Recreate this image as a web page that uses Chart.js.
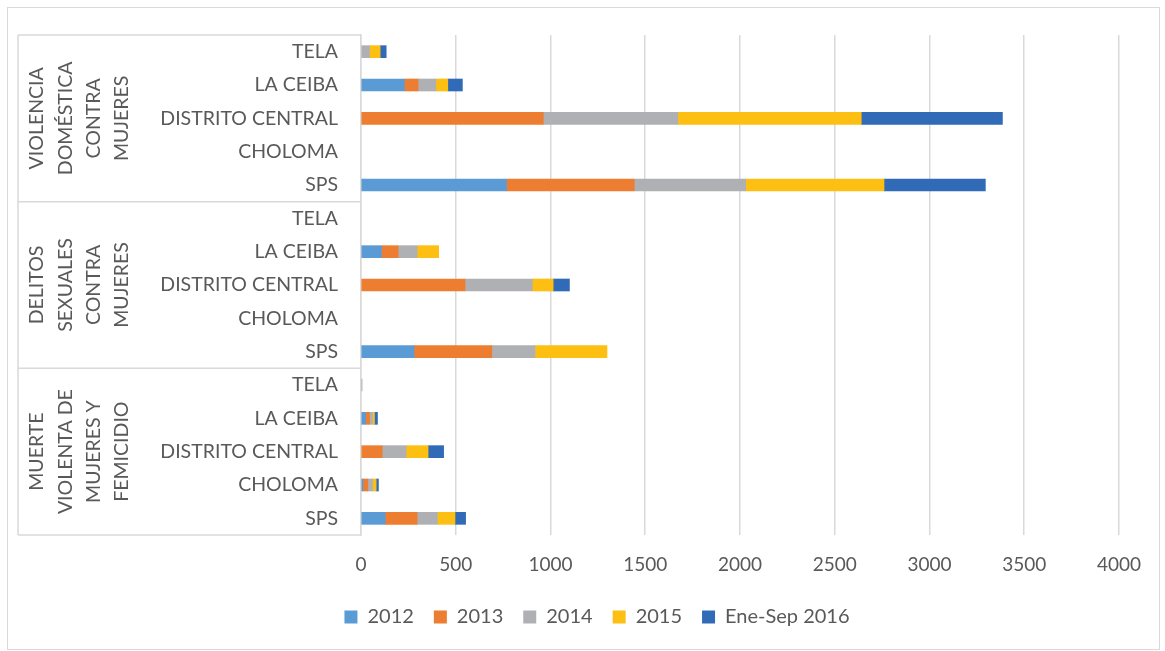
<!DOCTYPE html>
<html>
<head>
<meta charset="utf-8">
<script src="https://cdn.jsdelivr.net/npm/chart.js@4.4.0/dist/chart.umd.min.js"></script>
<style>
  html, body { margin: 0; padding: 0; background: #fff; }
  #wrap { position: absolute; left: 7px; top: 7px; width: 1153px; height: 643px; border: 1px solid #d9d9d9; box-sizing: border-box; }
</style>
</head>
<body>
<div id="wrap"><canvas id="chart"></canvas></div>
<script>
// groups (outer level of the y axis), one entry per text line
const groups = [
  ["VIOLENCIA", "DOMÉSTICA", "CONTRA", "MUJERES"],
  ["DELITOS", "SEXUALES", "CONTRA", "MUJERES"],
  ["MUERTE", "VIOLENTA DE", "MUJERES Y", "FEMICIDIO"]
];
const cities = ["TELA", "LA CEIBA", "DISTRITO CENTRAL", "CHOLOMA", "SPS"];
const years = ["2012", "2013", "2014", "2015", "Ene-Sep 2016"];

// values per year, top to bottom: 3 groups x 5 cities (null = empty cell)
const v2012 = [null, 229, null, null, 768,  null, 108, null, null, 280,  null, 24, null, 10, 128];
const v2013 = [null, 72, 962, null, 674,    null, 88, 549, null, 410,    null, 21, 112, 26, 168];
const v2014 = [45, 94, 710, null, 588,      null, 100, 355, null, 228,   6, 16, 126, 25, 107];
const v2015 = [56, 63, 968, null, 730,      null, 114, 110, null, 380,   null, 10, 116, 19, 93];
const v2016 = [32, 77, 745, null, 535,      null, null, 86, null, null,  null, 16, 82, 12, 56];

const colors = ['#5B9BD5', '#ED7D31', '#AFB0B3', '#FCBF12', '#316AB6'];
const seriesVals = [v2012, v2013, v2014, v2015, v2016];

const labels = groups.flatMap(() => cities);

Chart.defaults.font.family = 'Lato';
Chart.defaults.font.size = 19.5;
Chart.defaults.color = '#595959';

// draws the outer group labels and the box lines round them
const groupBoxes = {
  id: 'groupBoxes',
  afterDraw(chart) {
    const {ctx, chartArea: a} = chart;
    const h = (a.bottom - a.top) / groups.length;
    ctx.save();
    ctx.strokeStyle = '#d9d9d9';
    ctx.lineWidth = 1.5;
    ctx.beginPath();
    ctx.moveTo(10, a.top);
    ctx.lineTo(10, a.bottom);
    for (let g = 0; g <= groups.length; g++) {
      const y = a.top + g * h;
      ctx.moveTo(10, y);
      ctx.lineTo(a.left, y);
    }
    ctx.stroke();
    ctx.fillStyle = '#595959';
    ctx.font = '19.5px Lato';
    ctx.textAlign = 'center';
    ctx.textBaseline = 'middle';
    groups.forEach((lines, g) => {
      const cy = a.top + (g + 0.5) * h;
      lines.forEach((t, i) => {
        ctx.save();
        ctx.translate(29 + i * 28.3, cy);
        ctx.rotate(-Math.PI / 2);
        ctx.fillText(t, 0, 0);
        ctx.restore();
      });
    });
    ctx.restore();
  }
};

new Chart(document.getElementById('chart'), {
  type: 'bar',
  data: {
    labels: labels,
    datasets: years.map((y, i) => ({
      label: y,
      data: seriesVals[i],
      backgroundColor: colors[i],
      barThickness: 12
    }))
  },
  options: {
    indexAxis: 'y',
    responsive: true,
    maintainAspectRatio: false,
    animation: false,
    layout: { padding: { left: 63, top: 27, right: 36, bottom: 12 } },
    scales: {
      x: {
        stacked: true,
        min: 0,
        max: 4000,
        ticks: { stepSize: 500, padding: 18, font: { size: 19 }, callback: (v) => String(v) },
        grid: { color: '#d9d9d9', lineWidth: 1.5, drawTicks: false },
        border: { display: false },
        afterFit(scale) { scale.height = 52; }
      },
      y: {
        stacked: true,
        grid: { display: false },
        border: { color: '#d9d9d9', width: 1.5 },
        ticks: { padding: 15, autoSkip: false },
        afterFit(scale) { scale.width = 290; }
      }
    },
    plugins: {
      tooltip: { enabled: false },
      legend: {
        position: 'bottom',
        labels: { boxWidth: 13, boxHeight: 13, padding: 20, font: { size: 20 } }
      }
    }
  },
  plugins: [groupBoxes]
});
</script>
</body>
</html>
